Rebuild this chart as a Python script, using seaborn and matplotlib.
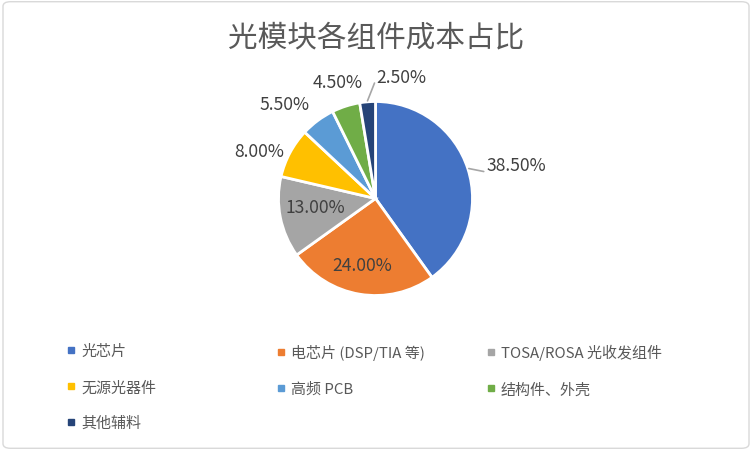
import numpy as np
import matplotlib
matplotlib.use("Agg")
import matplotlib.pyplot as plt
from matplotlib.patches import FancyBboxPatch
from matplotlib.lines import Line2D
import seaborn as sns

# chart data
categories = ["光芯片", "电芯片 (DSP/TIA 等)", "TOSA/ROSA 光收发组件", "无源光器件",
              "高频 PCB", "结构件、外壳", "其他辅料"]
shares = [38.5, 24.0, 13.0, 8.0, 5.5, 4.5, 2.5]
colors = ["#4472C4", "#ED7D31", "#A5A5A5", "#FFC000", "#5B9BD5", "#70AD47", "#264478"]
title = "光模块各组件成本占比"

# label layout (radius units, degree nudges from slice middle)
label_dist = [1.49, 0.70, 0.63, 1.29, 1.35, 1.26, 1.28]
label_nudge = [-4.6, -1.6, -3.7, 6.0, 7.4, 0.0, -16.8]
leaders = {0: (1.15, 14.0), 6: (1.19, 90.5)}

sns.set_theme(style="white")
plt.rcParams["font.family"] = ["Noto Sans CJK SC", "DejaVu Sans"]

fig = plt.figure(figsize=(7.52, 4.52), dpi=100)
fig.patch.set_facecolor("white")
fig.patches.append(FancyBboxPatch((0.004, 0.006), 0.992, 0.988,
                                  boxstyle="round,pad=0,rounding_size=0.01",
                                  transform=fig.transFigure, facecolor="none",
                                  edgecolor="#D9D9D9", linewidth=1.0, zorder=5))

ax = fig.add_axes([(375.5 - 97) / 752, (452 - 199.5 - 97) / 452, 194 / 752, 194 / 452])
wedges, _ = ax.pie(shares, colors=colors, startangle=90, counterclock=False,
                   wedgeprops=dict(edgecolor="white", linewidth=2))
ax.set_xlim(-1, 1)
ax.set_ylim(-1, 1)
ax.set_aspect("equal")

for i, w in enumerate(wedges):
    mid = (w.theta1 + w.theta2) / 2
    ang = np.deg2rad(mid + label_nudge[i])
    d = label_dist[i]
    ax.text(d * np.cos(ang), d * np.sin(ang), f"{shares[i]:.2f}%", ha="center",
            va="center", fontsize=12.6, color="#404040", clip_on=False)
    if i in leaders:
        r_end, a_end = leaders[i]
        a0 = np.deg2rad(mid)
        a1 = np.deg2rad(a_end)
        ax.add_line(Line2D([1.01 * np.cos(a0), r_end * np.cos(a1)],
                           [1.01 * np.sin(a0), r_end * np.sin(a1)],
                           color="#A6A6A6", linewidth=1.2, clip_on=False))

fig.text(0.5, 0.915, title, ha="center", va="center", fontsize=21.3, color="#595959")

# legend, row-major like Excel: one legend per column
col_x = [66 / 752, 276 / 752, 486 / 752]
for c in range(3):
    idx = list(range(c, len(categories), 3))
    handles = [Line2D([], [], marker="s", linestyle="", markersize=5,
                      markerfacecolor=colors[k], markeredgecolor=colors[k]) for k in idx]
    leg = fig.legend(handles, [categories[k] for k in idx], loc="upper left",
                     bbox_to_anchor=(col_x[c], 1 - 345 / 452), frameon=False,
                     fontsize=10.8, labelcolor="#595959", handlelength=0.6,
                     handletextpad=0.4, labelspacing=1.45, borderpad=0, borderaxespad=0)

fig.savefig("out.png", dpi=100, facecolor="white")
